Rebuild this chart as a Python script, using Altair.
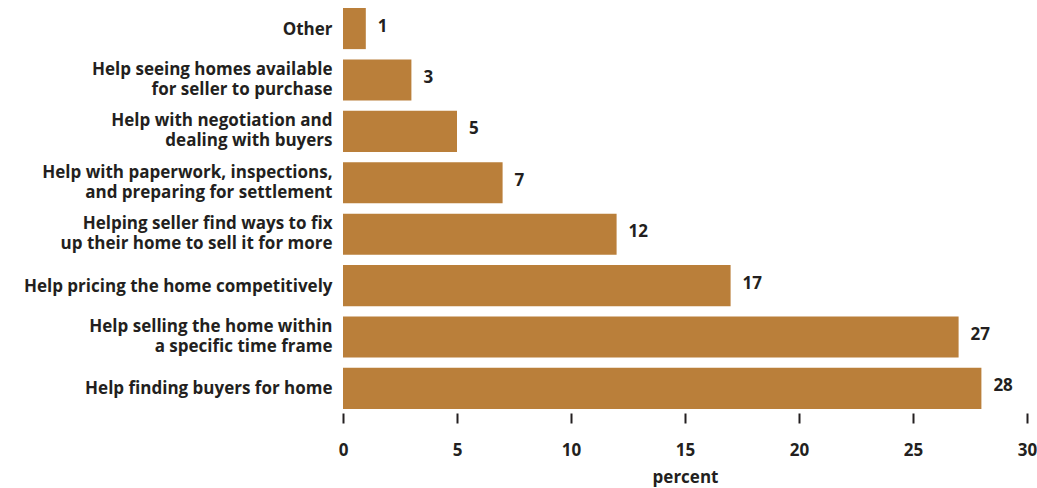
import altair as alt
import pandas as pd

categories = [
    "Other",
    "Help seeing homes available|for seller to purchase",
    "Help with negotiation and|dealing with buyers",
    "Help with paperwork, inspections,|and preparing for settlement",
    "Helping seller find ways to fix|up their home to sell it for more",
    "Help pricing the home competitively",
    "Help selling the home within|a specific time frame",
    "Help finding buyers for home",
]
values = [1, 3, 5, 7, 12, 17, 27, 28]
x_ticks = [0, 5, 10, 15, 20, 25, 30]

df = pd.DataFrame({"cat": categories, "val": values})

FONT = "Open Sans"
TXT = "#231F20"
BAR = "#BA7F3A"
FS = 17

y_enc = alt.Y(
    "cat:N",
    sort=categories,
    title=None,
    scale=alt.Scale(paddingInner=0.2, paddingOuter=0.0),
    axis=alt.Axis(
        domain=False,
        ticks=False,
        labelPadding=11,
        labelFont=FONT,
        labelFontSize=FS,
        labelFontWeight="bold",
        labelColor=TXT,
        labelLineHeight=20,
        labelLimit=400,
        labelExpr="split(datum.label, '|')",
        labelOffset={
            "condition": {"test": "indexof(datum.value, '|') >= 0", "value": -10},
            "value": 1,
        },
    ),
)

x_enc = alt.X(
    "val:Q",
    title="percent",
    scale=alt.Scale(domain=[0, 30], nice=False),
    axis=alt.Axis(
        values=x_ticks,
        grid=False,
        domain=False,
        ticks=True,
        tickSize=10,
        tickWidth=2,
        tickColor=TXT,
        offset=4,
        labelFlush=False,
        labelPadding=19,
        labelFont=FONT,
        labelFontSize=FS,
        labelFontWeight="bold",
        labelColor=TXT,
        titleFont=FONT,
        titleFontSize=FS,
        titleFontWeight="bold",
        titleColor=TXT,
        titlePadding=11,
    ),
)

bars = alt.Chart(df).mark_bar(color=BAR).encode(x=x_enc, y=y_enc)

labels = alt.Chart(df).mark_text(
    align="left", baseline="middle", dx=12, dy=-2,
    font=FONT, fontSize=FS, fontWeight="bold", color=TXT,
).encode(
    x=alt.X("val:Q", scale=alt.Scale(domain=[0, 30], nice=False)),
    y=alt.Y("cat:N", sort=categories),
    text="val:Q",
)

chart = (
    alt.layer(bars, labels)
    .properties(
        width=684,
        height=401,
        autosize=alt.AutoSizeParams(type="none"),
        padding={"left": 343, "top": 8, "right": 10, "bottom": 79},
        background="white",
    )
    .configure_view(stroke=None)
)

chart.save("out.html", embed_options={"renderer": "svg", "actions": False})
